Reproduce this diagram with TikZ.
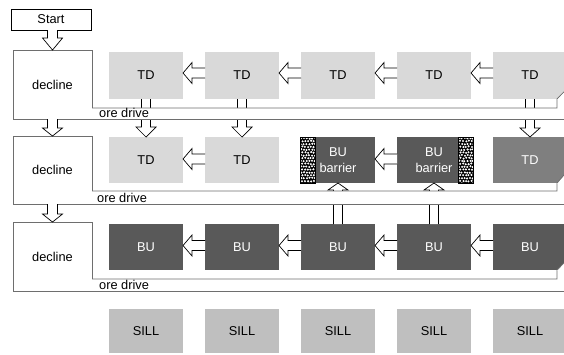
\documentclass[tikz,border=0pt]{standalone}
\usepackage{fontspec}
\setmainfont{Liberation Sans}
\usetikzlibrary{calc}
\definecolor{tdlight}{HTML}{D9D9D9}
\definecolor{budark}{HTML}{595959}
\definecolor{tdmid}{HTML}{7F7F7F}
\definecolor{sillc}{HTML}{BFBFBF}
\definecolor{lgray}{HTML}{6E6E6E}
\newcommand\myfs{\fontsize{12.8}{16}\selectfont}
% left-pointing hollow arrow from box #1 (right) to box #2 (left), #3 vertical offset
\newcommand\fatleft[3]{%
  \path[fat] ($(#1.west)+(0,-5+#3)$) -- ($(#2.east)+(9,-5+#3)$) -- ($(#2.east)+(9,-10.5+#3)$) -- ($(#2.east)+(0,#3)$)
    -- ($(#2.east)+(9,10.5+#3)$) -- ($(#2.east)+(9,5+#3)$) -- ($(#1.west)+(0,5+#3)$);}
% downward hollow arrow: #1 source anchor, #2 target anchor (tip), #3 shaft half width, #4 head length
\newcommand\fatdown[4]{%
  \coordinate (fs) at (#2 |- #1);
  \path[fat] ($(fs)+(-#3,0)$) -- ($(#2)+(-#3,-#4)$) -- ($(#2)+(-10,-#4)$) -- (#2)
    -- ($(#2)+(10,-#4)$) -- ($(#2)+(#3,-#4)$) -- ($(fs)+(#3,0)$);}
% upward hollow arrow from box #1 to box #2
\newcommand\fatup[2]{%
  \coordinate (fs) at (#2.south |- #1.north);
  \path[fat] ($(fs)+(-4.5,0)$) -- ($(#2.south)+(-4.5,7)$) -- ($(#2.south)+(-10,7)$) -- (#2.south)
    -- ($(#2.south)+(10,7)$) -- ($(#2.south)+(4.5,7)$) -- ($(fs)+(4.5,0)$);}
% speckled barrier strip
\newcommand\hatchbar[4]{%
  \begin{scope}
    \clip (#1,#2) rectangle ++(#3,#4);
    \fill[black] (#1,#2) rectangle ++(#3,#4);
    \foreach \j in {0,...,16}{
      \foreach \i in {0,...,5}{
        \pgfmathsetmacro\xx{#1+1.0+\i*2.8+mod(\j,2)*1.4+0.45*rand}
        \pgfmathsetmacro\yy{#2+1.2+\j*2.85+0.45*rand}
        \fill[white] (\xx,\yy) circle (1.15pt);
      }}
  \end{scope}
  \draw[black, line width=0.8pt] (#1,#2) rectangle ++(#3,#4);}
\begin{document}
\begin{tikzpicture}[x=1pt,y=-1pt,
  bx/.style={rectangle, inner sep=0pt, outer sep=0pt, anchor=north west,
    minimum width=74pt, minimum height=46pt, font=\myfs, align=center},
  tdl/.style={bx, fill=tdlight, text=black},
  bud/.style={bx, fill=budark, text=white},
  tdm/.style={bx, fill=tdmid, text=white},
  sill/.style={bx, fill=sillc, text=black, minimum height=44pt},
  decl/.style={rectangle, draw=lgray, line width=0.8pt, fill=white, inner sep=0pt,
    outer sep=0pt, anchor=north west, minimum width=79pt, font=\myfs},
  startbox/.style={rectangle, draw=black, line width=0.8pt, fill=white, inner sep=0pt,
    outer sep=0pt, anchor=north west, minimum width=80pt, minimum height=21pt, font=\myfs},
  fat/.style={draw=black, fill=white, line width=0.7pt, line join=miter},
  stripline/.style={draw=lgray, line width=0.8pt},
  odtext/.style={anchor=base west, inner sep=0pt, font=\myfs},
]
\useasboundingbox (0,0) rectangle (564,354);
\pgfmathsetseed{7}

% start and declines
\node[startbox] (start) at (11,9) {Start};
\node[decl, minimum height=69pt] (d1) at (13,50) {decline};
\node[decl, minimum height=68pt] (d2) at (13,136) {decline};
\node[decl, minimum height=69pt] (d3) at (13,222) {decline};

% row 1
\node[tdl, minimum height=47pt] (a1) at (109,52) {TD};
\node[tdl, minimum height=47pt] (a2) at (205,52) {TD};
\node[tdl, minimum height=47pt] (a3) at (301,52) {TD};
\node[tdl, minimum height=47pt] (a4) at (397,52) {TD};
\node[tdl, minimum height=47pt] (a5) at (493,52) {TD};

% row 2
\node[tdl] (b1) at (109,137) {TD};
\node[tdl] (b2) at (205,137) {TD};
\node[bud] (b3) at (301,137) {BU\\barrier};
\node[bud] (b4) at (397,137) {BU\\barrier};
\node[tdm] (b5) at (493,137) {TD};
\hatchbar{300}{137}{15}{46}
\hatchbar{458}{137}{15}{46}

% row 3
\node[bud] (c1) at (109,224) {BU};
\node[bud] (c2) at (205,224) {BU};
\node[bud] (c3) at (301,224) {BU};
\node[bud] (c4) at (397,224) {BU};
\node[bud] (c5) at (493,224) {BU};

% sills
\node[sill] (s1) at (109,309) {SILL};
\node[sill] (s2) at (205,309) {SILL};
\node[sill] (s3) at (301,309) {SILL};
\node[sill] (s4) at (397,309) {SILL};
\node[sill] (s5) at (493,309) {SILL};

% horizontal arrows
\fatleft{a2}{a1}{-2.5}
\fatleft{a3}{a2}{-2.5}
\fatleft{a4}{a3}{-2.5}
\fatleft{a5}{a4}{-2.5}
\fatleft{b2}{b1}{-1}
\fatleft{b4}{b3}{-1}
\fatleft{c2}{c1}{-1.5}
\fatleft{c3}{c2}{-1.5}
\fatleft{c4}{c3}{-1.5}
\fatleft{c5}{c4}{-1.5}

% vertical arrows
\fatdown{start.south}{d1.north}{5}{12}
\fatdown{d1.south}{d2.north}{5}{8}
\fatdown{d2.south}{d3.north}{5}{8}
\fatdown{a1.south}{b1.north}{4.5}{10}
\fatdown{a2.south}{b2.north}{4.5}{10}
\fatdown{a5.south}{b5.north}{4.5}{9}
\fatup{c3}{b3}
\fatup{c4}{b4}

% ore drives
\fill[white] (92.4,108) rectangle (566,119);
\draw[stripline] (d1.south east) -- (566,119);
\draw[stripline] (92,108) -- (557,108) -- (557,99) -- (566,90);
\fill[white] (557.4,99.5) -- (566,90.5) -- (566,99.5) -- cycle;
\node[odtext] (od1) at (99,117.3) {ore drive};

\fill[white] (92.4,191) rectangle (566,204);
\draw[stripline] (d2.south east) -- (566,204);
\draw[stripline] (92,191) -- (557,191) -- (557,183) -- (566,173);
\fill[white] (557.4,183.5) -- (566,173.5) -- (566,183.5) -- cycle;
\node[odtext] (od2) at (97,202.3) {ore drive};

\fill[white] (92.4,279) rectangle (566,291);
\draw[stripline] (d3.south east) -- (566,291);
\draw[stripline] (92,279) -- (557,279) -- (557,270) -- (566,261);
\fill[white] (557.4,270.5) -- (566,261.5) -- (566,270.5) -- cycle;
\node[odtext] (od3) at (99,289.3) {ore drive};
\end{tikzpicture}
\end{document}
